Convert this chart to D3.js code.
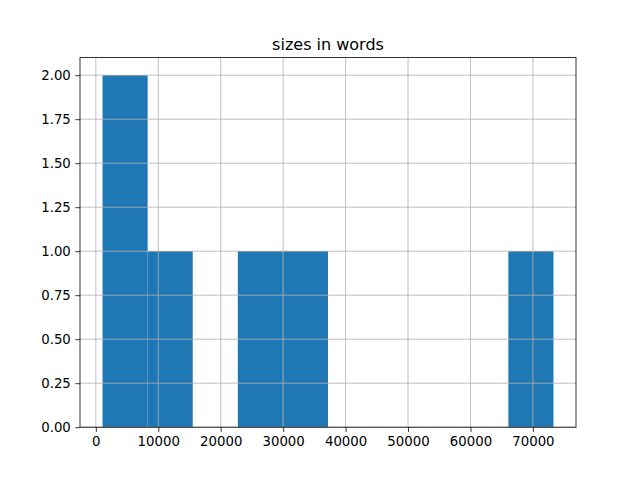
<!DOCTYPE html>
<html>
<head>
<meta charset="utf-8">
<script src="https://cdn.jsdelivr.net/npm/d3@7"></script>
<style>
  body { margin: 0; background: #fff; }
  text { font-family: "DejaVu Sans", sans-serif; }
</style>
</head>
<body>
<script>
// document sizes in words (6 documents)
const sizes = [1076, 6000, 12000, 26000, 33000, 73290];
const binCount = 10;
const xTicks = [0, 10000, 20000, 30000, 40000, 50000, 60000, 70000];
const yTicks = [0, 0.25, 0.5, 0.75, 1, 1.25, 1.5, 1.75, 2];

const W = 640, H = 480;
const margin = { top: 57.6, right: 64, bottom: 52.8, left: 80 };
const width = W - margin.left - margin.right;
const height = H - margin.top - margin.bottom;

const svg = d3.select("body").append("svg")
    .attr("width", W)
    .attr("height", H);

const g = svg.append("g")
    .attr("transform", "translate(" + margin.left + "," + margin.top + ")");

// equal-width bins between min and max, like matplotlib
const lo = d3.min(sizes), hi = d3.max(sizes);
const step = (hi - lo) / binCount;
const thresholds = d3.range(1, binCount).map(i => lo + i * step);
const bins = d3.bin().domain([lo, hi]).thresholds(thresholds)(sizes);

const pad = (hi - lo) * 0.05;
const x = d3.scaleLinear().domain([lo - pad, hi + pad]).range([0, width]);
const maxCount = d3.max(bins, d => d.length);
const y = d3.scaleLinear().domain([0, maxCount * 1.05]).range([height, 0]);

// bars
g.selectAll(".bar")
    .data(bins)
    .enter().append("rect")
    .attr("class", "bar")
    .attr("x", d => x(d.x0))
    .attr("width", d => x(d.x1) - x(d.x0))
    .attr("y", d => y(d.length))
    .attr("height", d => y(0) - y(d.length))
    .style("fill", "#1f77b4");

// grid (on top of bars)
g.selectAll(".vgrid")
    .data(xTicks)
    .enter().append("line")
    .attr("x1", d => x(d)).attr("x2", d => x(d))
    .attr("y1", 0).attr("y2", height)
    .attr("stroke", "#b0b0b0").attr("stroke-width", 0.8);

g.selectAll(".hgrid")
    .data(yTicks)
    .enter().append("line")
    .attr("x1", 0).attr("x2", width)
    .attr("y1", d => y(d)).attr("y2", d => y(d))
    .attr("stroke", "#b0b0b0").attr("stroke-width", 0.8);

// axes
const xAxis = g.append("g")
    .attr("transform", "translate(0," + height + ")")
    .call(d3.axisBottom(x).tickValues(xTicks).tickFormat(d3.format("d")).tickSize(4.7).tickPadding(4.5));

const yAxis = g.append("g")
    .call(d3.axisLeft(y).tickValues(yTicks).tickFormat(d3.format(".2f")).tickSize(4.7).tickPadding(4.5));

[xAxis, yAxis].forEach(a => {
    a.select(".domain").remove();
    a.selectAll("line").attr("stroke", "#000").attr("stroke-width", 0.8);
    a.selectAll("text")
        .attr("fill", "#000")
        .style("font-size", "13.3px")
        .style("font-family", "DejaVu Sans, sans-serif");
});

// frame
g.append("rect")
    .attr("x", 0).attr("y", 0)
    .attr("width", width).attr("height", height)
    .attr("fill", "none")
    .attr("stroke", "#000")
    .attr("stroke-width", 0.8);

// title
g.append("text")
    .attr("x", width / 2)
    .attr("y", -8)
    .attr("text-anchor", "middle")
    .style("font-size", "16px")
    .text("sizes in words");
</script>
</body>
</html>
